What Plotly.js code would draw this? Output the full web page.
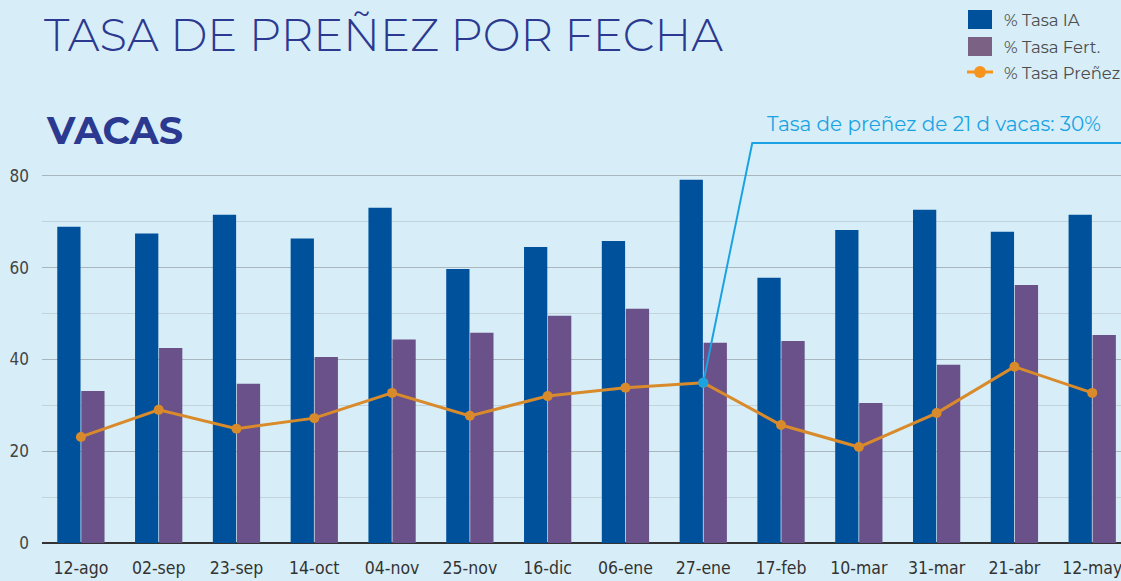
<!DOCTYPE html>
<html><head><meta charset="utf-8">
<script src="https://cdn.plot.ly/plotly-3.0.1.min.js"></script>
<style>html,body{margin:0;padding:0;background:#d7eef8;}#c{width:1121px;height:581px;}
.xtick text,.ytick text{font-stretch:condensed;}</style>
</head><body><div id="c"></div>
<script>
const fechas = ["12-ago","02-sep","23-sep","14-oct","04-nov","25-nov","16-dic","06-ene","27-ene","17-feb","10-mar","31-mar","21-abr","12-may"];
const tasaIA = [68.9,67.4,71.5,66.3,73.0,59.7,64.5,65.8,79.1,57.8,68.2,72.6,67.8,71.5];
const tasaFert = [33.1,42.5,34.7,40.5,44.3,45.8,49.5,51.0,43.6,44.0,30.5,38.8,56.2,45.3];
const tasaPrenez = [23.1,29.0,24.9,27.2,32.7,27.7,32.0,33.8,34.9,25.7,20.9,28.3,38.4,32.7];
const seriesNames = ["% Tasa IA","% Tasa Fert.","% Tasa Preñez"];
const annotText = "Tasa de preñez de 21 d vacas: 30%";
const annotIndex = 8;

const W=1121,H=581,ML=42,MR=0,MT=139,MB=38;
const px2x = p => (p-ML)/(W-ML-MR);
const px2y = p => (H-MB-p)/(H-MT-MB);
const xIdx = fechas.map((_,i)=>i);
const XMAX = 13.37, YMAX = 88;

const traces = [
 {type:'bar', x:xIdx, y:tasaIA, name:seriesNames[0], marker:{color:'#00519c'}, showlegend:false, hoverinfo:'y'},
 {type:'bar', x:xIdx, y:tasaFert, name:seriesNames[1], marker:{color:'#6a5189'}, showlegend:false, hoverinfo:'y'},
 {type:'scatter', mode:'lines+markers', x:xIdx, y:tasaPrenez, name:seriesNames[2], line:{color:'#d98b2b',width:3}, marker:{color:'#d98b2b',size:10}, showlegend:false}
];

const yLine = px2y(143)*YMAX;
const xBend = annotIndex + (752-703)/((W-ML-MR)/(XMAX+0.5));
const shapes = [
 {type:'path', xref:'x', yref:'y', path:`M ${annotIndex},${tasaPrenez[annotIndex]} L ${xBend},${yLine} L ${XMAX},${yLine}`, line:{color:'#1aa3e3',width:2}},
 {type:'circle', xref:'x', yref:'y', xsizemode:'pixel', ysizemode:'pixel', xanchor:annotIndex, yanchor:tasaPrenez[annotIndex], x0:-5,x1:5,y0:-5,y1:5, fillcolor:'#1aa3e3', line:{width:0}},
 {type:'rect', xref:'paper', yref:'paper', x0:px2x(968), x1:px2x(992), y0:px2y(29), y1:px2y(10), fillcolor:'#00519c', line:{width:0}},
 {type:'rect', xref:'paper', yref:'paper', x0:px2x(968), x1:px2x(992), y0:px2y(56), y1:px2y(37), fillcolor:'#7b6285', line:{width:0}},
 {type:'line', xref:'paper', yref:'paper', x0:px2x(967), x1:px2x(993), y0:px2y(72), y1:px2y(72), line:{color:'#f7941d',width:3}},
 {type:'circle', xref:'paper', yref:'paper', x0:px2x(974), x1:px2x(986), y0:px2y(78), y1:px2y(66), fillcolor:'#f7941d', line:{width:0}}
];

const legFont = {family:'Montserrat, "Open Sans", "Noto Sans", sans-serif', size:16.5, color:'#4d4d4d'};
const annotations = [
 {xref:'paper', yref:'paper', x:px2x(44), y:px2y(130), xanchor:'left', yanchor:'middle', text:'<b>VACAS</b>', showarrow:false, font:{family:'Montserrat, "Open Sans", sans-serif', size:38, color:'#2b3990'}},
 {xref:'paper', yref:'paper', x:px2x(1103), y:px2y(124), xanchor:'right', yanchor:'middle', text:annotText, showarrow:false, font:{family:'Montserrat, "Open Sans", sans-serif', size:20, color:'#1aa3e3'}},
 {xref:'paper', yref:'paper', x:px2x(1002), y:px2y(20), xanchor:'left', yanchor:'middle', text:seriesNames[0], showarrow:false, font:legFont},
 {xref:'paper', yref:'paper', x:px2x(1002), y:px2y(47), xanchor:'left', yanchor:'middle', text:seriesNames[1], showarrow:false, font:legFont},
 {xref:'paper', yref:'paper', x:px2x(1002), y:px2y(73), xanchor:'left', yanchor:'middle', text:seriesNames[2], showarrow:false, font:legFont}
];

const tickFam = '"Liberation Sans Narrow", "DejaVu Sans", sans-serif';
const layout = {
 width:W, height:H,
 margin:{l:ML,r:MR,t:MT,b:MB,pad:0},
 paper_bgcolor:'#d7eef8', plot_bgcolor:'#d7eef8',
 title:{text:'TASA DE PREÑEZ POR FECHA', xref:'container', yref:'container', x:44/W, xanchor:'left', y:1-35/H, yanchor:'middle', font:{family:'Montserrat, "Open Sans", "Noto Sans", sans-serif', size:45, color:'#2b3990', weight:300}},
 barmode:'group', bargap:0.383, bargroupgap:0.03,
 xaxis:{range:[-0.5,XMAX], tickmode:'array', tickvals:xIdx, ticktext:fechas, showgrid:false, zeroline:false, showline:false, ticks:'', ticklabeloverflow:'allow', ticklabelstandoff:12, tickfont:{family:tickFam, size:17.5, color:'#333'}, fixedrange:true},
 yaxis:{range:[0,YMAX], tickmode:'array', tickvals:[0,20,40,60,80], showgrid:true, gridcolor:'#a9b6be', gridwidth:1.2, zeroline:true, zerolinecolor:'#333', zerolinewidth:2, ticks:'', ticklabelstandoff:12, tickfont:{family:tickFam, size:17, color:'#444'},
   minor:{tickvals:[10,30,50,70], showgrid:true, gridcolor:'#c3d3dc', gridwidth:1}, fixedrange:true},
 shapes:shapes, annotations:annotations, hovermode:false
};
Plotly.newPlot('c', traces, layout, {displayModeBar:false, staticPlot:true});
</script></body></html>
